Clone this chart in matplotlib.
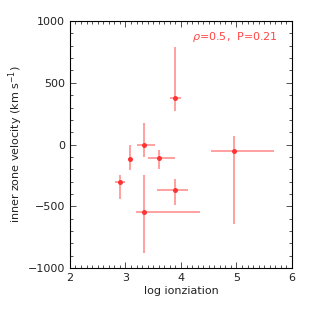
import matplotlib
matplotlib.use("Agg")
import matplotlib.pyplot as plt
from matplotlib.ticker import MultipleLocator
import numpy as np

log_ion = [2.91, 3.08, 3.34, 3.61, 3.90, 3.90, 3.33, 4.95]
log_ion_lo = [2.81, 3.05, 3.21, 3.41, 3.80, 3.57, 3.19, 4.54]
log_ion_hi = [3.00, 3.11, 3.53, 3.89, 4.00, 4.12, 4.35, 5.68]
velocity = [-303, -115, 0, -110, 374, -365, -545, -48]
velocity_lo = [-440, -202, -102, -198, 274, -486, -881, -640]
velocity_hi = [-244, 0, 173, -43, 794, -277, -244, 73]

x = np.array(log_ion)
y = np.array(velocity)
xerr = [x - np.array(log_ion_lo), np.array(log_ion_hi) - x]
yerr = [y - np.array(velocity_lo), np.array(velocity_hi) - y]

fig = plt.figure(figsize=(3.15, 3.15), dpi=100)
ax = fig.add_axes([0.222, 0.149, 0.705, 0.784])
ax.errorbar(x, y, xerr=xerr, yerr=yerr, fmt='none', ecolor='#ff7a7a',
            elinewidth=1.1, alpha=0.9, capsize=0)
ax.plot(x, y, 'o', color='#ff3333', markersize=3.6, markeredgewidth=0)

ax.set_xlim(2, 6)
ax.set_ylim(-1000, 1000)
ax.xaxis.set_major_locator(MultipleLocator(1))
ax.xaxis.set_minor_locator(MultipleLocator(0.1))
ax.yaxis.set_major_locator(MultipleLocator(500))
ax.yaxis.set_minor_locator(MultipleLocator(100))
ax.tick_params(which='both', direction='in', top=True, right=True,
               labelsize=8, width=0.6, color='#333333', labelcolor='#222222')
ax.tick_params(which='major', length=4)
ax.tick_params(which='minor', length=2)
for s in ax.spines.values():
    s.set_linewidth(0.8)
ax.set_xlabel('log ionziation', fontsize=8, labelpad=2, color='#222222')
ax.set_ylabel('inner zone velocity (km s$^{-1}$)', fontsize=8, labelpad=2,
              color='#222222')
ax.text(0.935, 0.935, r'$\rho$=0.5,  P=0.21', transform=ax.transAxes,
        ha='right', va='center', color='#ff4444', fontsize=8)

fig.savefig('out.png', dpi=100)
